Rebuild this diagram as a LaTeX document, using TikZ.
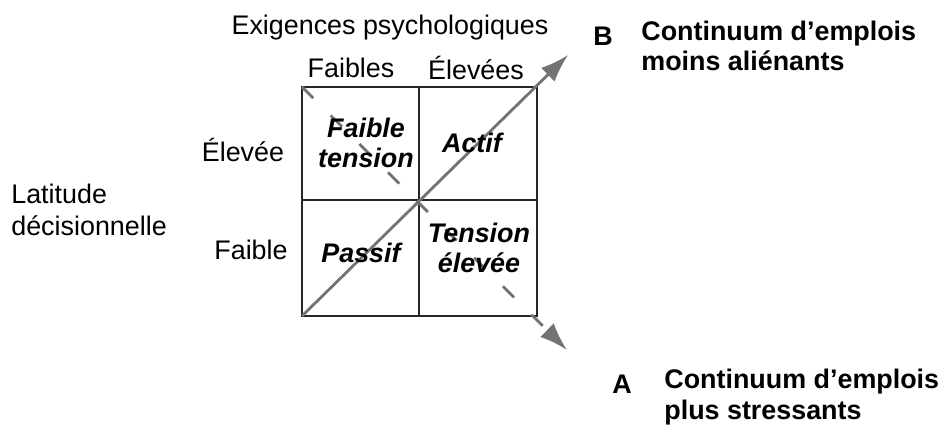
\documentclass[tikz,border=0pt]{standalone}
\usepackage{fontspec}
\setmainfont{Liberation Sans}
\usetikzlibrary{arrows.meta}
\tikzset{
	lbl/.style={font=\fontsize{15.3}{18.5}\selectfont, inner sep=0pt},
	boldlbl/.style={lbl, font=\fontsize{15.3}{17.5}\selectfont\bfseries, align=left},
	quad/.style={lbl, font=\fontsize{15.3}{17}\selectfont\bfseries\itshape, align=center},
	grid/.style={line width=1.1pt, color=black!85},
	contB/.style={line width=1.6pt, color=black!55, -{Latex[length=16pt, width=11pt]}},
	contA/.style={line width=1.6pt, color=black!55, dash pattern=on 9pt off 14pt, -{Latex[length=16pt, width=11pt]}}
}

\begin{document}
\begin{tikzpicture}[x=0.02cm, y=-0.02cm]
		%%%%% START %%%%%
		\useasboundingbox (0, 0) rectangle (940, 425);
		
		% the four boxes
		\coordinate (nw) at (302, 87);
		\coordinate (ne) at (537, 87);
		\coordinate (sw) at (302, 316);
		\coordinate (se) at (537, 316);
		\coordinate (ntop) at (419, 87);
		\coordinate (nbot) at (419, 316);
		\coordinate (wmid) at (302, 200);
		\coordinate (emid) at (537, 200);
		\draw[grid] (nw) rectangle (se);
		\draw[grid] (ntop) -- (nbot);
		\draw[grid] (wmid) -- (emid);
		
		% the two continua
		\coordinate (tipB) at (568, 55);
		\coordinate (tipA) at (567, 350);
		\draw[contB] (sw) -- (tipB);
		\draw[contA] (nw) -- (tipA);
		
		% axis labels
		\node[lbl] (exig) at (390, 28) {Exigences psychologiques};
		\node[lbl] (faibles) at (351, 68) {Faibles};
		\node[lbl] (elevees) at (476, 68) {Élevées};
		\node[lbl] (elevee) at (243, 150) {Élevée};
		\node[lbl] (faible) at (251, 250) {Faible};
		\node[lbl, anchor=west, align=left] (latitude) at (11, 210) {Latitude\\décisionnelle};
		
		% quadrants
		\node[quad] (ftension) at (366, 143) {Faible\\tension};
		\node[quad] (actif) at (472, 143) {Actif};
		\node[quad] (passif) at (361, 253) {Passif};
		\node[quad] (televee) at (479, 248) {Tension\\élevée};
		
		% continua labels
		\node[boldlbl] (letB) at (603, 36) {B};
		\node[boldlbl, anchor=west] (textB) at (641, 46) {Continuum d’emplois\\moins aliénants};
		\node[boldlbl] (letA) at (622, 384) {A};
		\node[boldlbl, anchor=west] (textA) at (664, 397) {Continuum d’emplois\\plus stressants};
		%%%%% END %%%%%
\end{tikzpicture}
\end{document}
